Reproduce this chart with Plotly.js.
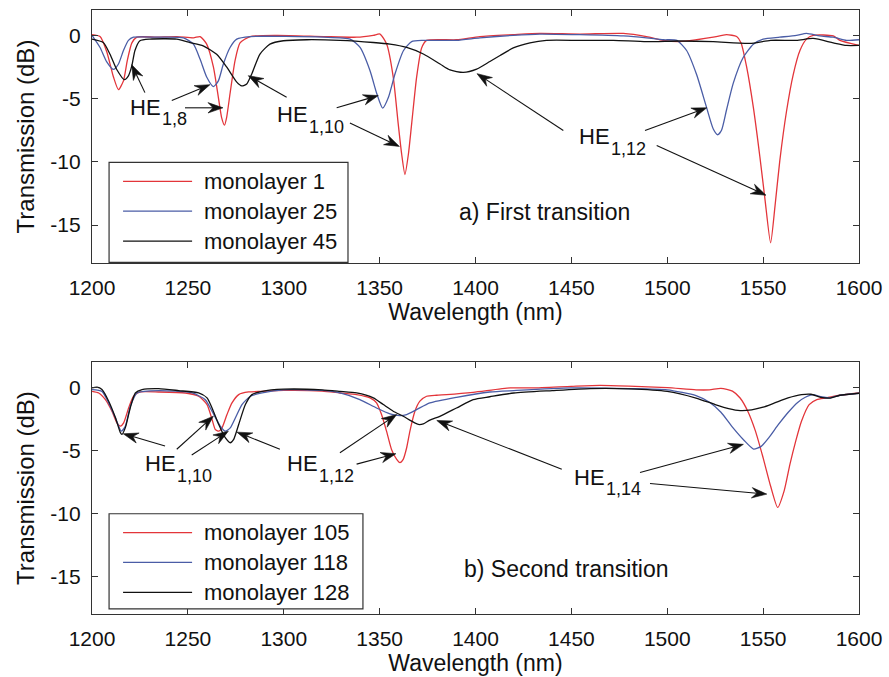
<!DOCTYPE html>
<html>
<head>
<meta charset="utf-8">
<script src="https://cdn.plot.ly/plotly-3.0.1.min.js"></script>
<style>
html,body{margin:0;padding:0;background:#fff;}
#chart{width:889px;height:677px;}
</style>
</head>
<body>
<div id="chart"></div>
<script>
// ---------- data ----------
const xTickVals = [1200,1250,1300,1350,1400,1450,1500,1550,1600];
const xTickText = ['1200','1250','1300','1350','1400','1450','1500','1550','1600'];
const yTickVals = [0,-5,-10,-15];
const yTickText = ['0','-5','-10','-15'];

const topNames = ['monolayer 1','monolayer 25','monolayer 45'];
const bottomNames = ['monolayer 105','monolayer 118','monolayer 128'];

// a) First transition
const m1_wl = [1200,1204.2,1207.7,1211.2,1213.8,1216.4,1218.4,1220.8,1223.4,1233.8,1244.2,1252.9,1256.4,1259.8,1263.3,1265.9,1267.6,1269.1,1270.2,1272,1274.6,1277.2,1282.5,1296.4,1320.7,1338.1,1346.7,1350.2,1353.7,1357.1,1359.7,1361.5,1363.2,1365,1366.7,1369.3,1371.9,1374.5,1390,1402.3,1419.7,1433.6,1454.5,1477.1,1489.2,1497.9,1506.6,1515.3,1524,1530.9,1536.2,1538.5,1541.4,1544.9,1548.3,1551,1553.9,1556.2,1558.7,1562.2,1565.7,1569.2,1572.6,1576.1,1586.6,1590,1600];
const m1_db = [0.05,-0.1,-1.3,-3.3,-4.3,-3.6,-2.0,-0.6,-0.15,-0.15,-0.1,-0.2,-0.1,-0.7,-2.5,-4.9,-6.5,-7.1,-6.5,-4.6,-2.0,-0.6,-0.1,0.0,-0.1,-0.15,0.0,0.1,-0.7,-3.3,-7.0,-9.4,-11.0,-9.4,-7.0,-3.3,-1.0,-0.4,-0.35,-0.1,0.05,0.15,0.1,0.15,-0.1,-0.4,-0.5,-0.35,-0.15,0.05,-0.1,-0.6,-2.5,-5.7,-9.6,-13.0,-16.4,-13.5,-9.9,-6.0,-3.1,-1.2,-0.3,0.0,-0.05,-0.4,-0.8];

const m25_wl = [1200,1204.2,1207.7,1211.2,1213.8,1216.4,1219,1221.6,1233.8,1247.7,1252.9,1256.4,1259.8,1263.3,1265.9,1268.5,1272,1275.5,1282.5,1320.7,1334.6,1339.8,1345,1348.5,1351.6,1354.6,1358,1362.4,1366.7,1372.8,1390,1402.3,1419.7,1433.6,1454.5,1477.1,1489.2,1497.9,1505,1510.1,1515.3,1520.5,1524,1526.3,1528.3,1530.9,1534.4,1539.6,1544.9,1550,1558.7,1567.4,1572.6,1579.5,1586.6,1593.5,1600];
const m25_db = [0.0,-0.96,-2.1,-2.7,-2.27,-1.2,-0.4,-0.15,-0.15,-0.2,-0.7,-1.9,-3.3,-4.05,-3.6,-2.27,-0.96,-0.3,-0.1,-0.15,-0.3,-0.96,-2.8,-4.6,-5.76,-4.9,-3.06,-1.22,-0.5,-0.4,-0.4,-0.2,0.0,0.1,0.05,-0.05,-0.2,-0.35,-0.4,-1.2,-3.1,-5.7,-7.4,-7.86,-7.5,-5.9,-3.8,-1.75,-0.7,-0.3,-0.15,0.0,0.15,-0.05,-0.15,-0.4,-0.35];

const m45_wl = [1200,1205.9,1209.4,1212.9,1216.9,1219,1220.8,1222.4,1225,1230.2,1244.2,1251.1,1258,1265,1270.2,1275.5,1278.1,1280.7,1283.3,1287.6,1292.8,1299.8,1312,1329.3,1346.7,1355.4,1364.1,1372.8,1381.5,1386.7,1393.6,1400.6,1407.5,1412.8,1419.7,1428.4,1437,1454.5,1471.9,1489.2,1506.6,1524,1543,1553.9,1567.4,1576.1,1586.6,1593.5,1600];
const m45_db = [-0.3,-0.57,-1.5,-2.7,-3.5,-3.2,-2.4,-1.2,-0.43,-0.3,-0.3,-0.57,-0.83,-1.5,-2.5,-3.7,-4.0,-3.85,-3.06,-1.48,-0.7,-0.43,-0.35,-0.4,-0.57,-0.7,-0.96,-1.48,-2.27,-2.74,-2.93,-2.67,-2.07,-1.6,-1.0,-0.6,-0.4,-0.4,-0.4,-0.5,-0.45,-0.5,-0.64,-0.4,-0.4,-0.25,-0.6,-0.8,-0.8];

// b) Second transition
const m105_wl = [1200,1203.5,1207,1210.4,1213,1214.8,1216.5,1219.1,1221.7,1225.2,1234.8,1248.7,1255.6,1260,1262.6,1264.3,1266.1,1267.8,1270.4,1273,1276.5,1281.7,1288.7,1300,1320,1329.3,1338,1345,1348.4,1351,1353.6,1356.2,1358.9,1360.6,1362.3,1364.1,1365.8,1368.4,1371,1374.5,1379.7,1384.9,1398.8,1418,1430,1450,1465,1480,1500,1515,1522,1528,1534,1538,1542,1546,1550,1554,1557.6,1561,1564,1567,1570,1574,1578,1583,1590,1600];
const m105_db = [-0.32,-0.45,-0.98,-1.9,-2.82,-3.08,-2.82,-1.64,-0.71,-0.37,-0.37,-0.45,-0.71,-1.37,-2.55,-3.35,-3.48,-3.22,-2.16,-1.24,-0.58,-0.37,-0.32,-0.25,-0.3,-0.45,-0.58,-0.84,-1.24,-2.16,-3.48,-4.93,-5.72,-5.98,-5.72,-4.8,-3.48,-1.9,-1.1,-0.71,-0.63,-0.58,-0.4,-0.05,-0.05,0.08,0.16,0.1,-0.03,-0.2,-0.2,-0.08,-0.3,-0.85,-1.9,-3.48,-5.6,-7.9,-9.54,-8.2,-6.1,-4.27,-2.69,-1.37,-0.97,-0.84,-0.63,-0.45];

const m118_wl = [1200,1205.2,1208.7,1212.2,1215.3,1217.4,1220,1223.5,1234.8,1252.2,1259.1,1262.6,1266.9,1269.5,1272.1,1274.8,1278.2,1282.6,1288.7,1300,1320,1329.3,1339.7,1348.4,1355.4,1360.6,1364.1,1369.3,1376.2,1390.1,1407.5,1420,1450,1480,1500,1515,1522,1528,1534,1540,1545,1549,1553,1558,1563,1568,1572,1576,1580,1585,1590,1600];
const m118_db = [-0.18,-0.32,-1.24,-2.42,-3.48,-3.08,-1.5,-0.45,-0.26,-0.45,-0.98,-1.9,-3.08,-3.48,-3.22,-2.42,-1.37,-0.71,-0.45,-0.2,-0.25,-0.45,-0.98,-1.64,-2.1,-2.24,-2.16,-1.77,-1.24,-0.79,-0.37,-0.26,-0.05,-0.1,-0.2,-0.66,-1.19,-1.98,-3.16,-4.2,-4.9,-4.69,-4.0,-2.95,-2.0,-1.2,-0.79,-0.58,-0.75,-0.84,-0.63,-0.47];

const m128_wl = [1200,1202.6,1205.2,1208.7,1212.2,1214.8,1215.6,1217.4,1220,1222.6,1226.1,1234.8,1245.2,1255.6,1260,1262.6,1266.1,1269.5,1272.1,1273.9,1276.5,1280,1283.4,1288.7,1300,1320,1329.3,1338,1346.7,1351.9,1357.1,1362.3,1366.7,1370.2,1372.8,1376.2,1381.4,1390.1,1398.8,1407.5,1420,1440,1460,1480,1500,1515,1525,1532,1538,1544,1550,1556,1563,1570,1575,1580,1585,1590,1600];
const m128_db = [-0.05,0.01,-0.18,-1.1,-2.4,-3.6,-3.74,-3.2,-1.6,-0.45,-0.18,-0.1,-0.26,-0.45,-0.84,-1.64,-2.95,-4.0,-4.4,-4.13,-2.95,-1.37,-0.58,-0.32,-0.15,-0.2,-0.32,-0.45,-0.84,-1.37,-1.9,-2.3,-2.69,-2.95,-2.9,-2.6,-2.3,-1.64,-0.98,-0.75,-0.45,-0.26,-0.1,-0.12,-0.32,-0.85,-1.37,-1.69,-1.85,-1.79,-1.58,-1.24,-0.84,-0.58,-0.55,-0.8,-0.85,-0.63,-0.47];

// ---------- styling ----------
const RED = '#e3353a', BLUE = '#4a5da6', BLACK = '#111111';
const FONT = 'Liberation Sans, Arial, Helvetica, sans-serif';
const colors = [RED, BLUE, BLACK];
const W = 889, H = 677;
const M = {l: 92, r: 30, t: 10, b: 63};
const TOP_DOM = [0.581, 1], BOT_DOM = [0, 0.417];
const X_RANGE = [1200, 1600], Y_RANGE = [-18, 2];
// pixel scales (used only to orient arrowheads and offset subscripts)
const plotW = W - M.l - M.r, plotH = H - M.t - M.b;
const pxNm = plotW / (X_RANGE[1] - X_RANGE[0]);
const pxDbTop = plotH * (TOP_DOM[1] - TOP_DOM[0]) / (Y_RANGE[1] - Y_RANGE[0]);
const pxDbBot = plotH * (BOT_DOM[1] - BOT_DOM[0]) / (Y_RANGE[1] - Y_RANGE[0]);

function tr(x, y, c, xa, ya, name) {
  return {x: x, y: y, type: 'scatter', mode: 'lines', name: name,
    line: {color: c, width: 1.3, shape: 'spline', smoothing: 0.6},
    xaxis: xa, yaxis: ya, showlegend: false, hoverinfo: 'skip'};
}

const data = [
  tr(m1_wl, m1_db, RED, 'x', 'y', topNames[0]),
  tr(m25_wl, m25_db, BLUE, 'x', 'y', topNames[1]),
  tr(m45_wl, m45_db, BLACK, 'x', 'y', topNames[2]),
  tr(m105_wl, m105_db, RED, 'x2', 'y2', bottomNames[0]),
  tr(m118_wl, m118_db, BLUE, 'x2', 'y2', bottomNames[1]),
  tr(m128_wl, m128_db, BLACK, 'x2', 'y2', bottomNames[2])
];

function xax(anchor) {
  return {anchor: anchor, domain: [0, 1], range: X_RANGE,
    tickvals: xTickVals, ticktext: xTickText,
    ticks: 'inside', ticklen: 6, tickwidth: 1, tickcolor: '#333',
    showline: true, linecolor: '#333', linewidth: 1.2, mirror: 'ticks',
    showgrid: false, zeroline: false,
    tickfont: {family: FONT, size: 21, color: '#111'},
    ticklabelstandoff: 6,
    title: {text: 'Wavelength (nm)', font: {family: FONT, size: 23, color: '#111'}, standoff: 4}};
}
function yax(anchor, dom) {
  return {anchor: anchor, domain: dom, range: Y_RANGE,
    tickvals: yTickVals, ticktext: yTickText,
    ticks: 'inside', ticklen: 6, tickwidth: 1, tickcolor: '#333',
    showline: true, linecolor: '#333', linewidth: 1.2, mirror: 'ticks',
    showgrid: false, zeroline: false,
    tickfont: {family: FONT, size: 21, color: '#111'},
    ticklabelstandoff: 6,
    title: {text: 'Transmission (dB)', font: {family: FONT, size: 24, color: '#111'}, standoff: 8}};
}

const shapes = [];
const annotations = [];

// custom legend boxes
function legend(xr, yr, names, box, rowsY) {
  shapes.push({type: 'rect', xref: xr, yref: yr, x0: box[0], x1: box[1], y0: box[2], y1: box[3],
    line: {color: '#333', width: 1.2}, fillcolor: 'rgba(255,255,255,1)', layer: 'above'});
  names.forEach(function(n, i) {
    shapes.push({type: 'line', xref: xr, yref: yr, x0: 1216.2, x1: 1252.2, y0: rowsY[i], y1: rowsY[i],
      line: {color: colors[i], width: 1.3}, layer: 'above'});
    annotations.push({xref: xr, yref: yr, x: 1257.4, y: rowsY[i], text: n, showarrow: false,
      xanchor: 'left', yanchor: 'middle', font: {family: FONT, size: 22, color: '#111'}});
  });
}
legend('x', 'y', topNames, [1208.9, 1333.5, -10.04, -17.95], [-11.54, -13.9, -16.26]);
legend('x2', 'y2', bottomNames, [1208.9, 1341.3, -10.04, -17.6], [-11.54, -13.9, -16.28]);

// mode labels: "HE" plus a separate subscript text
function label(xr, yr, x, y, main, sub) {
  const pxDb = (yr === 'y') ? pxDbTop : pxDbBot;
  annotations.push({xref: xr, yref: yr, x: x, y: y, showarrow: false, xanchor: 'left', yanchor: 'middle',
    text: main, font: {family: FONT, size: 22, color: '#111'}});
  annotations.push({xref: xr, yref: yr, x: x + 32 / pxNm, y: y - 12 / pxDb, showarrow: false,
    xanchor: 'left', yanchor: 'middle',
    text: sub, font: {family: FONT, size: 18, color: '#111'}});
}
// arrow = shaft (line shape) + filled stealth head (pixel-sized path shape)
function arrow(xr, yr, hx, hy, tx, ty) {
  const pxDb = (yr === 'y') ? pxDbTop : pxDbBot;
  const dx = (hx - tx) * pxNm, dy = (hy - ty) * pxDb;
  const len = Math.hypot(dx, dy);
  const ux = dx / len, uy = dy / len, nx = -uy, ny = ux;
  const L = 15, Wd = 5.2, N = 10;
  const back = N / len;
  shapes.push({type: 'line', xref: xr, yref: yr, x0: tx, y0: ty,
    x1: hx - (hx - tx) * back, y1: hy - (hy - ty) * back,
    line: {color: '#111', width: 1.1}});
  const f = v => v.toFixed(2);
  const path = 'M0,0 L' + f(-L * ux + Wd * nx) + ',' + f(-L * uy + Wd * ny) +
    ' L' + f(-N * ux) + ',' + f(-N * uy) +
    ' L' + f(-L * ux - Wd * nx) + ',' + f(-L * uy - Wd * ny) + ' Z';
  shapes.push({type: 'path', xref: xr, yref: yr, xsizemode: 'pixel', ysizemode: 'pixel',
    xanchor: hx, yanchor: hy, path: path, fillcolor: '#111', line: {color: '#111', width: 0.6}});
}

label('x', 'y', 1218.8, -5.69, 'HE', '1,8');
arrow('x', 'y', 1220.7, -2.32, 1227.6, -4.53);
arrow('x', 'y', 1261.5, -3.9, 1241.6, -5.16);
arrow('x', 'y', 1268.3, -5.73, 1248.5, -5.73);

label('x', 'y', 1295.4, -6.28, 'HE', '1,10');
arrow('x', 'y', 1281.5, -3.19, 1301.5, -4.9);
arrow('x', 'y', 1349.3, -4.76, 1327.6, -5.73);
arrow('x', 'y', 1360.3, -8.78, 1334.5, -6.94);

label('x', 'y', 1452.8, -8.0, 'HE', '1,12');
arrow('x', 'y', 1400.8, -3.03, 1445.8, -7.52);
arrow('x', 'y', 1520.6, -5.73, 1488.4, -7.52);
arrow('x', 'y', 1551.5, -12.64, 1494.5, -8.7);

label('x2', 'y2', 1226.8, -6.08, 'HE', '1,10');
arrow('x2', 'y2', 1216.3, -3.69, 1238.1, -4.66);
arrow('x2', 'y2', 1263.3, -2.29, 1244.2, -4.92);
arrow('x2', 'y2', 1271.1, -3.48, 1252, -5.38);

label('x2', 'y2', 1300.7, -6.08, 'HE', '1,12');
arrow('x2', 'y2', 1275.6, -3.56, 1298, -4.92);
arrow('x2', 'y2', 1358.9, -2.16, 1329.3, -5.19);
arrow('x2', 'y2', 1358.5, -5.27, 1338, -6.1);

label('x2', 'y2', 1450.2, -7.13, 'HE', '1,14');
arrow('x2', 'y2', 1379.8, -2.63, 1445, -6.5);
arrow('x2', 'y2', 1539.7, -4.53, 1485.8, -6.77);
arrow('x2', 'y2', 1551.9, -8.48, 1491, -7.64);

annotations.push({xref: 'x', yref: 'y', x: 1390.4, y: -13.98, text: 'a) First transition', showarrow: false,
  xanchor: 'left', yanchor: 'middle', font: {family: FONT, size: 23, color: '#111'}});
annotations.push({xref: 'x2', yref: 'y2', x: 1393, y: -14.4, text: 'b) Second transition', showarrow: false,
  xanchor: 'left', yanchor: 'middle', font: {family: FONT, size: 23, color: '#111'}});

const layout = {
  width: W, height: H,
  margin: M,
  paper_bgcolor: '#fff', plot_bgcolor: '#fff',
  font: {family: FONT, color: '#111'},
  showlegend: false,
  xaxis: xax('y'),
  yaxis: yax('x', TOP_DOM),
  xaxis2: xax('y2'),
  yaxis2: yax('x2', BOT_DOM),
  shapes: shapes,
  annotations: annotations
};

Plotly.newPlot('chart', data, layout, {staticPlot: true, displayModeBar: false});
</script>
</body>
</html>
